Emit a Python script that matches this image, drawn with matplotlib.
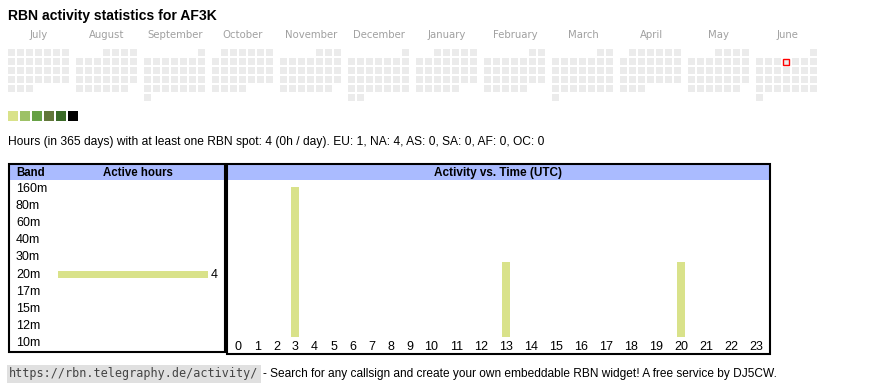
import datetime as dt
import numpy as np
import matplotlib
matplotlib.use('Agg')
import matplotlib.pyplot as plt
from matplotlib.patches import Rectangle
from matplotlib.transforms import blended_transform_factory

# --- data -------------------------------------------------------------
title = 'RBN activity statistics for AF3K'
months = ['July', 'August', 'September', 'October', 'November', 'December',
          'January', 'February', 'March', 'April', 'May', 'June']
start_date = dt.date(2024, 7, 1)
n_days = 365
highlight_day = dt.date(2025, 6, 5)
level_colors = ['#d9e28a', '#9dc166', '#67a146', '#62773a', '#3a6a27', '#000000']
stats_text = ('Hours (in 365 days) with at least one RBN spot: 4 (0h / day). '
              'EU: 1, NA: 4, AS: 0, SA: 0, AF: 0, OC: 0')

bands = ['160m', '80m', '60m', '40m', '30m', '20m', '17m', '15m', '12m', '10m']
band_hours = [0, 0, 0, 0, 0, 4, 0, 0, 0, 0]

hours = [str(h) for h in range(24)]
hour_counts = [0, 0, 0, 2, 0, 0, 0, 0, 0, 0, 0, 0,
               0, 1, 0, 0, 0, 0, 0, 0, 1, 0, 0, 0]

footer_url = 'https://rbn.telegraphy.de/activity/'
footer_text = '- Search for any callsign and create your own embeddable RBN widget! A free service by DJ5CW.'

# --- styles -------------------------------------------------------------
W, H = 870, 390
cell_bg = '#ebebeb'
head_bg = '#aabbff'
bar_col = level_colors[0]

plt.rcParams['font.family'] = ['Liberation Sans', 'DejaVu Sans']

fig = plt.figure(figsize=(W / 100, H / 100), dpi=100)
ax = fig.add_axes([0, 0, 1, 1])
ax.set_xlim(0, W)
ax.set_ylim(H, 0)
ax.axis('off')


def px_axes(x0, y0, x1, y1):
    return fig.add_axes([x0 / W, 1 - y1 / H, (x1 - x0) / W, (y1 - y0) / H])


ax.text(8, 16, title, fontsize=10.1, fontweight='bold', va='center')

# calendar grid
for m, name in enumerate(months):
    ax.text(8 + m * 68 + 31, 35, name, fontsize=7.3, color='#a0a0a0',
            family='DejaVu Sans', ha='center', va='center')
for i in range(n_days):
    d = start_date + dt.timedelta(days=i)
    m = (d.year - start_date.year) * 12 + d.month - start_date.month
    first = d.replace(day=1)
    pos = first.weekday() + d.day - 1
    x = 8 + m * 68 + (pos % 7) * 9
    y = 49 + (pos // 7) * 9
    if d == highlight_day:
        ax.add_patch(Rectangle((x + 0.5, y + 0.5), 6, 6, facecolor=cell_bg,
                               edgecolor='red', lw=1))
    else:
        ax.add_patch(Rectangle((x, y), 7, 7, facecolor=cell_bg, lw=0))

for i, c in enumerate(level_colors):
    ax.add_patch(Rectangle((8 + i * 12, 111), 10, 10, facecolor=c, lw=0))

ax.text(8, 142, stats_text, fontsize=8.65, va='center')

# table frames
ax.add_patch(Rectangle((10, 165), 214, 15, facecolor=head_bg, lw=0))
ax.add_patch(Rectangle((228, 165), 541, 15, facecolor=head_bg, lw=0))
ax.add_patch(Rectangle((9, 164), 216, 188, fill=False, edgecolor='black', lw=1.5))
ax.add_patch(Rectangle((227, 164), 543, 190, fill=False, edgecolor='black', lw=1.5))
ax.text(16, 173, 'Band', fontsize=8.3, fontweight='bold', va='center')
ax.text(138, 173, 'Active hours', fontsize=8.3, fontweight='bold', va='center', ha='center')
ax.text(498, 173, 'Activity vs. Time (UTC)', fontsize=8.5, fontweight='bold',
        va='center', ha='center')

# active hours per band
bx = px_axes(58, 180, 208, 352)
bx.barh(range(len(bands)), band_hours, height=0.4, color=bar_col)
bx.set_xlim(0, max(band_hours))
bx.set_ylim(len(bands) - 0.5, -0.5)
bx.axis('off')
tr = blended_transform_factory(fig.transFigure, bx.transData)
for i, (b, v) in enumerate(zip(bands, band_hours)):
    bx.text(16 / W, i, b, transform=tr, fontsize=9, va='center', clip_on=False)
    if v > 0:
        bx.annotate(str(v), (v, i), xytext=(3, 0), textcoords='offset pixels',
                    fontsize=9, va='center', annotation_clip=False)

# activity vs time
widths = np.array([13 + 6 * len(h) for h in hours])
centers = np.cumsum(widths) - widths / 2
tx = px_axes(229, 187, 229 + widths.sum(), 337)
tx.bar(centers, hour_counts, width=8, color=bar_col)
tx.set_xlim(0, widths.sum())
tx.set_ylim(0, max(hour_counts))
tx.set_xticks(centers, hours)
tx.set_yticks([])
tx.tick_params(axis='x', length=0, pad=3, labelsize=9)
for s in tx.spines.values():
    s.set_visible(False)
tx.patch.set_alpha(0)

# footer
ax.text(9, 374, footer_url, family='DejaVu Sans Mono', fontsize=8.5, color='#444444',
        va='center', bbox=dict(facecolor='#e0e0e0', edgecolor='none', pad=1.5))
ax.text(263, 374, footer_text, fontsize=8.6, va='center')

fig.savefig('out.png', dpi=100)
